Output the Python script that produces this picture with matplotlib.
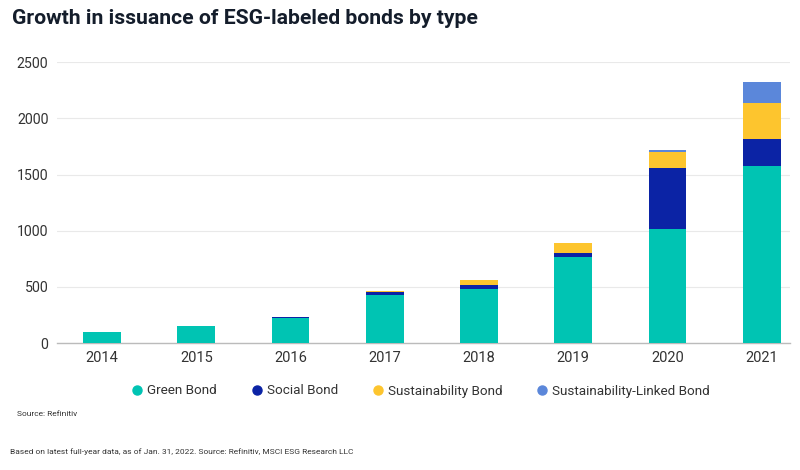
import matplotlib
matplotlib.use("Agg")
import matplotlib.pyplot as plt
from matplotlib.lines import Line2D
import numpy as np

years = ["2014", "2015", "2016", "2017", "2018", "2019", "2020", "2021"]
green = [95, 150, 222, 430, 483, 762, 1017, 1581]
social = [0, 2, 10, 25, 36, 36, 543, 237]
sustainability = [0, 0, 2, 12, 42, 95, 145, 321]
linked = [0, 0, 0, 0, 0, 0, 15, 184]
series_names = ["Green Bond", "Social Bond", "Sustainability Bond", "Sustainability-Linked Bond"]
colors = ["#00C4B3", "#0B23A5", "#FDC52E", "#5B87DA"]
yticks = [0, 500, 1000, 1500, 2000, 2500]

plt.rcParams['font.family'] = ['Roboto', 'DejaVu Sans']

fig = plt.figure(figsize=(8, 4.7), dpi=100)
ax = fig.add_axes([0.071, 0.2702, 0.9165, 0.5972])

x = np.arange(len(years))
bottom = np.zeros(len(years))
for vals, c in zip([green, social, sustainability, linked], colors):
    ax.bar(x, vals, width=0.4, bottom=bottom, color=c, zorder=3)
    bottom += np.array(vals)

ax.set_xlim(-0.48, 7.3)
ax.set_ylim(0, 2500)
ax.set_yticks(yticks)
ax.set_yticklabels([str(v) for v in yticks], fontsize=10.2, color="#333333")
ax.set_xticks(x)
ax.set_xticklabels(years, fontsize=10.5, color="#333333")
ax.tick_params(axis='both', length=0)
ax.tick_params(axis='y', pad=6)
ax.tick_params(axis='x', pad=6)
ax.grid(axis='y', color="#e9e9e9", linewidth=0.8, zorder=0)
for s in ["top", "right", "left"]:
    ax.spines[s].set_visible(False)
ax.spines["bottom"].set_color("#bbbbbb")
ax.spines["bottom"].set_linewidth(1.0)

fig.text(12 / 800, 1 - 18 / 470, "Growth in issuance of ESG-labeled bonds by type",
         fontsize=15.2, fontweight='bold', color="#141d2b", va='center', ha='left')

handles = [Line2D([0], [0], marker='o', linestyle='none', markersize=6.5,
                  markerfacecolor=c, markeredgecolor=c) for c in colors]
fig.legend(handles, series_names, loc='center', bbox_to_anchor=(0.526, 1 - 391 / 470),
           ncol=4, frameon=False, fontsize=9.7, handlelength=0.8, handletextpad=0.35,
           columnspacing=2.55, labelcolor="#333333")

fig.text(17 / 800, 1 - 414 / 470, "Source: Refinitiv", fontsize=6, color="#333333",
         va='center', ha='left')
fig.text(10 / 800, 1 - 452 / 470,
         "Based on latest full-year data, as of Jan. 31, 2022. Source: Refinitiv, MSCI ESG Research LLC",
         fontsize=6, color="#333333", va='center', ha='left')

fig.savefig("out.png", dpi=100)
